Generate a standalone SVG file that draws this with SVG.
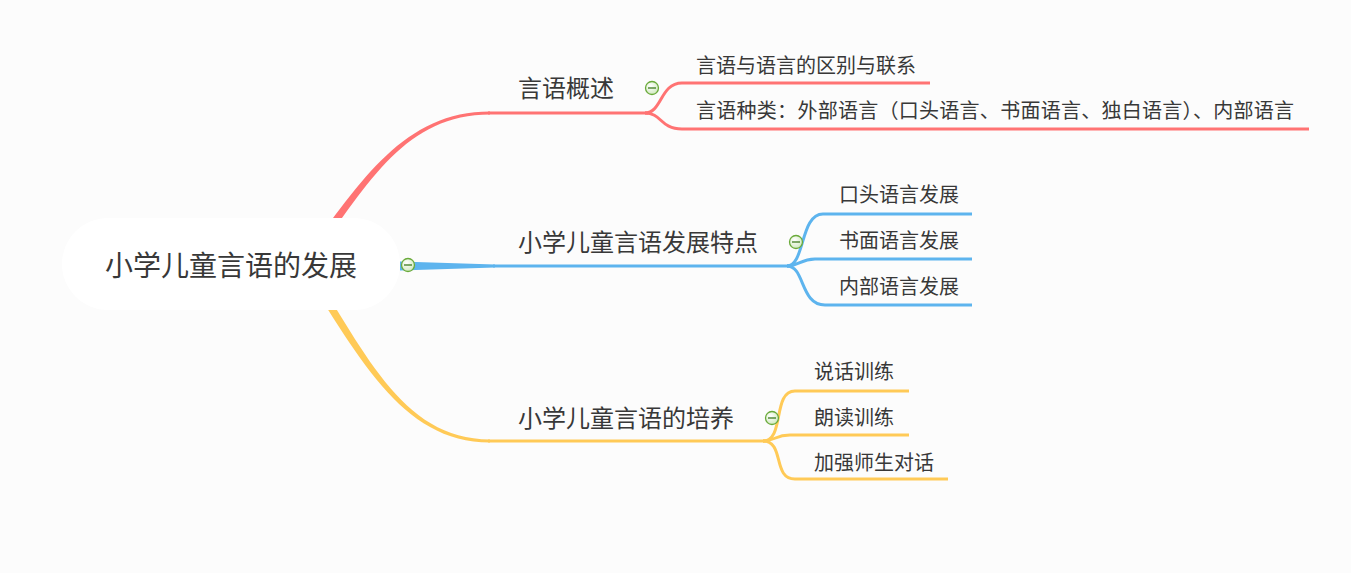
<svg xmlns="http://www.w3.org/2000/svg" width="1351" height="573" viewBox="0 0 1351 573">
<defs>
<radialGradient id="ig" cx="0.4" cy="0.35" r="0.7">
<stop offset="0" stop-color="#ffffff"/>
<stop offset="1" stop-color="#cfe8bd"/>
</radialGradient>
<g id="icon">
<circle cx="0" cy="0" r="6.5" fill="url(#ig)" stroke="#6aaa3a" stroke-width="1.3"/>
<line x1="-4" y1="0" x2="4" y2="0" stroke="#3d7a1e" stroke-width="1.3"/>
</g>
</defs>
<style>
text{font-family:"Noto Sans CJK SC","Noto Sans",sans-serif;fill:#383838}
.root{font-size:28px}
.main{font-size:24px}
.sub{font-size:20px}
.ln{fill:none;stroke-width:3;stroke-linecap:butt}
.red{stroke:#ff7373}
.blue{stroke:#5db4ee}
.yel{stroke:#ffca57}
</style>
<rect x="0" y="0" width="1351" height="573" fill="#fcfcfc"/>
<g id="connectors">
<path d="M296.8 267.6 C356.8 187.6 400 111.5 490 111.5 L490 114.5 C400 114.5 363.2 192.4 303.2 272.4 Z" fill="#ff7373"/>
<path class="ln red" d="M488 113 H648"/>
<path class="ln red" d="M645 113 C662 113 660 83 682 83 H930"/>
<path class="ln red" d="M645 113 C662 113 660 129 682 129 H1309"/>
<path d="M400 261.5 L495 264.5 L495 267.5 L400 270.5 Z" fill="#5db4ee"/>
<path class="ln blue" d="M493 266 H790"/>
<path class="ln blue" d="M787 266 C805 266 800 214 823 214 H972"/>
<path class="ln blue" d="M787 266 C800 266 800 259 815 259 H972"/>
<path class="ln blue" d="M787 266 C805 266 800 305 825 305 H972"/>
<path d="M296.8 260.4 C356.8 352.4 400 442.5 490 442.5 L490 439.5 C400 439.5 363.2 347.6 303.2 255.6 Z" fill="#ffca57"/>
<path class="ln yel" d="M488 441 H766"/>
<path class="ln yel" d="M763 441 C785 441 772 391 795 391 H909"/>
<path class="ln yel" d="M763 441 C775 441 775 435 790 435 H909"/>
<path class="ln yel" d="M763 441 C785 441 772 479 795 479 H948"/>
</g>
<g id="root">
<rect x="62" y="218" width="338" height="92" rx="46" ry="46" fill="#ffffff"/>
<text class="root" x="231" y="276" text-anchor="middle">小学儿童言语的发展</text>
<use href="#icon" x="408" y="265"/>
</g>
<g id="n1">
<text class="main" x="518" y="97">言语概述</text>
<use href="#icon" x="652" y="88"/>
</g>
<g id="n1a"><text class="sub" x="696" y="73">言语与语言的区别与联系</text></g>
<g id="n1b"><text class="sub" x="696" y="118" textLength="598" lengthAdjust="spacing">言语种类：外部语言（口头语言、书面语言、独白语言）、内部语言</text></g>
<g id="n2">
<text class="main" x="518" y="251">小学儿童言语发展特点</text>
<use href="#icon" x="796" y="242"/>
</g>
<g id="n2a"><text class="sub" x="839" y="202">口头语言发展</text></g>
<g id="n2b"><text class="sub" x="839" y="248">书面语言发展</text></g>
<g id="n2c"><text class="sub" x="839" y="294">内部语言发展</text></g>
<g id="n3">
<text class="main" x="518" y="427">小学儿童言语的培养</text>
<use href="#icon" x="772" y="418"/>
</g>
<g id="n3a"><text class="sub" x="814" y="379">说话训练</text></g>
<g id="n3b"><text class="sub" x="814" y="425">朗读训练</text></g>
<g id="n3c"><text class="sub" x="814" y="470">加强师生对话</text></g>
</svg>
